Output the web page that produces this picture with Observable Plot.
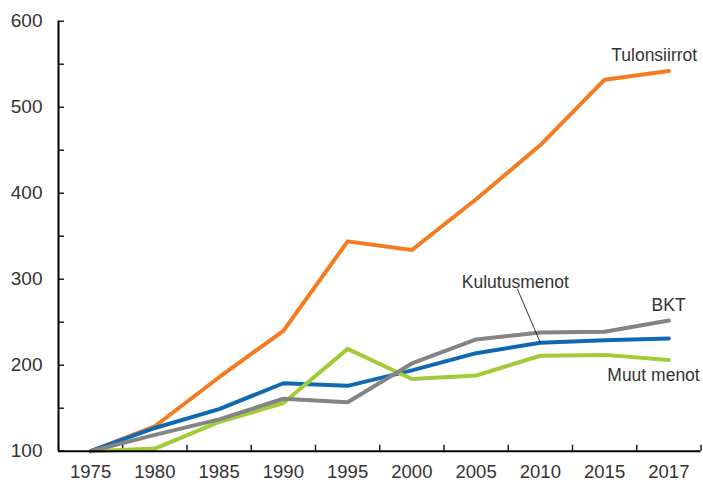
<!DOCTYPE html>
<html>
<head>
<meta charset="utf-8">
<script src="https://cdn.jsdelivr.net/npm/d3@7"></script>
<script src="https://cdn.jsdelivr.net/npm/@observablehq/plot@0.6"></script>
<style>
  html, body { margin: 0; padding: 0; background: #fff; }
  #chart { width: 703px; height: 483px; }
</style>
</head>
<body>
<div id="chart"></div>
<script>
// ---- data ----
const years = ["1975", "1980", "1985", "1990", "1995", "2000", "2005", "2010", "2015", "2017"];
const tulonsiirrot = [100, 129, 186, 240, 344, 334, 393, 456, 532, 542];
const kulutusmenot = [100, 127, 149, 179, 176, 194, 214, 226, 229, 231];
const bkt          = [100, 119, 137, 161, 157, 202, 230, 238, 239, 252];
const muutMenot    = [100, 103, 134, 156, 219, 184, 188, 211, 212, 206];

const seriesNames  = ["Tulonsiirrot", "Kulutusmenot", "Muut menot", "BKT"];
const seriesValues = [tulonsiirrot, kulutusmenot, muutMenot, bkt];
const seriesColors = ["#F47B20", "#0F69B2", "#A3CB38", "#848484"];

const yMajorTicks = [100, 200, 300, 400, 500, 600];
const yMinorTicks = [100, 150, 200, 250, 300, 350, 400, 450, 500, 550, 600];

// annotation labels: text, position in year-index units, value units, anchor
const labelText   = ["Tulonsiirrot", "Kulutusmenot", "BKT", "Muut menot"];
const labelX      = [9.44, 6.61, 9.26, 9.48];
const labelY      = [560, 296, 269.5, 188];
const labelAnchor = ["end", "middle", "end", "end"];

// leader line from "Kulutusmenot" to its 2010 point
const leaderFrom = {x: 6.64, y: 289};
const leaderTo   = {x: 7, y: 226};

// ---- build tables ----
const rows = [];
seriesNames.forEach((name, s) => {
  seriesValues[s].forEach((v, i) => rows.push({series: name, i, value: v}));
});
const labels = labelText.map((t, k) => ({text: t, x: labelX[k], y: labelY[k], anchor: labelAnchor[k]}));

const bandEdges = d3.range(years.length + 1).map(k => k - 0.5);
const bandCenters = d3.range(years.length);

const chart = Plot.plot({
  width: 703,
  height: 483,
  marginLeft: 58,
  marginRight: 2.5,
  marginTop: 20.7,
  marginBottom: 32.3,
  style: {fontFamily: "'Liberation Sans', Arial, sans-serif", fontSize: "18px", color: "#333", background: "#fff", overflow: "visible"},
  x: {type: "linear", domain: [-0.5, years.length - 0.5]},
  y: {domain: [100, 600]},
  color: {domain: seriesNames, range: seriesColors},
  marks: [
    // tick marks (inward)
    Plot.axisY({ticks: yMinorTicks, tickSize: -6, tickFormat: () => "", stroke: "#000", strokeWidth: 1.3}),
    Plot.axisX({ticks: bandEdges, tickSize: -6, tickFormat: () => "", stroke: "#000", strokeWidth: 1.3}),
    // tick labels
    Plot.axisY({ticks: yMajorTicks, tickSize: 0, tickPadding: 16, fill: "#333", fontSize: 19}),
    Plot.axisX({ticks: bandCenters, tickSize: 0, tickPadding: 14, tickFormat: i => years[i], fill: "#333", fontSize: 18.5}),
    // series lines
    Plot.line(rows, {x: "i", y: "value", z: "series", stroke: "series", strokeWidth: 4, strokeLinejoin: "round", strokeLinecap: "round"}),
    // axis lines
    Plot.ruleY([100], {stroke: "#000", strokeWidth: 2}),
    Plot.ruleX([-0.5], {stroke: "#000", strokeWidth: 2}),
    // leader line
    Plot.link([{}], {x1: () => leaderFrom.x, y1: () => leaderFrom.y, x2: () => leaderTo.x, y2: () => leaderTo.y, stroke: "#000", strokeWidth: 0.8}),
    // labels
    Plot.text(labels.filter(d => d.anchor === "end"), {x: "x", y: "y", text: "text", textAnchor: "end", fill: "#333", fontSize: 17.5}),
    Plot.text(labels.filter(d => d.anchor === "middle"), {x: "x", y: "y", text: "text", textAnchor: "middle", fill: "#333", fontSize: 17.5})
  ]
});
document.getElementById("chart").appendChild(chart);
</script>
</body>
</html>
